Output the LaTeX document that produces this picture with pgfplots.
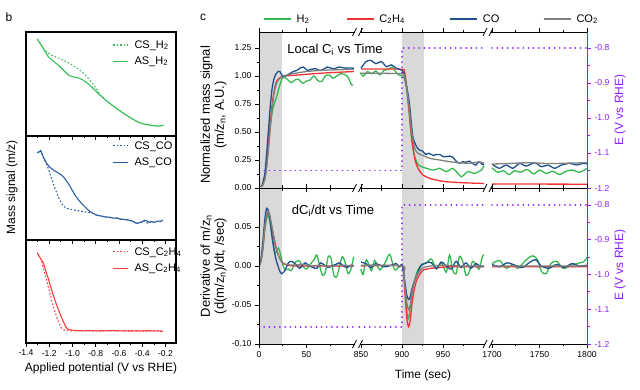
\documentclass[border=0pt]{standalone}
\usepackage{fontspec}
\setmainfont{Liberation Sans}
\usepackage{pgfplots}
\pgfplotsset{compat=1.18}
\usepackage{pgfplotstable}

\definecolor{cgreen}{RGB}{52,185,80}
\definecolor{cred}{RGB}{240,50,50}
\definecolor{cblue}{RGB}{30,80,140}
\definecolor{cgray}{RGB}{128,128,128}
\definecolor{cpurple}{RGB}{140,30,255}
\definecolor{band}{RGB}{217,217,217}
\definecolor{bgreen}{RGB}{60,190,90}
\definecolor{bblue}{RGB}{45,95,160}
\definecolor{bred}{RGB}{250,60,60}

\newcommand{\fs}[1]{\fontsize{#1}{#1}\selectfont}

% ---------- panel c data (t in seconds) ----------
\pgfplotstableread{
t y
0 0
3 0.02
6 0.12
8 0.3
10 0.52
12 0.74
14 0.9
16 0.98
18 1.02
20 1.04
22 1.04
24 1.01
26 0.995
28 1.0
32 1.02
36 1.04
40 1.05
44 1.075
47 1.08
51 1.05
55 1.06
60 1.065
64 1.05
68 1.06
72 1.08
76 1.07
80 1.065
84 1.08
88 1.075
92 1.07
96 1.072
100 1.07
101 nan
850 1.07
856 1.128
862 1.14
868 1.11
875 1.128
881 1.083
887 1.1
893 1.07
897 1.06
900 1.05
902 1.03
905 0.93
909 0.76
913 0.47
917 0.38
921 0.34
925 0.33
929 0.30
933 0.31
938 0.29
942 0.30
946 0.30
950 0.28
954 0.28
958 0.285
962 0.275
966 0.24
970 0.22
974 0.235
978 0.23
982 0.24
986 0.22
990 0.205
994 0.235
998 0.21
1000 0.21
1001 nan
1700 0.214
1704 0.19
1708 0.176
1715 0.205
1722 0.176
1729 0.22
1736 0.196
1745 0.226
1752 0.19
1759 0.205
1766 0.176
1773 0.205
1782 0.22
1789 0.205
1796 0.22
1800 0.215
}\topCO

\pgfplotstableread{
t y
0 0
3 0.015
6 0.08
8 0.2
10 0.38
12 0.58
14 0.75
16 0.87
18 0.94
20 0.97
23 0.99
26 1.0
35 1.005
50 1.015
65 1.025
80 1.032
100 1.04
101 nan
850 1.063
875 1.063
900 1.06
903 1.04
905.5 0.92
907.3 0.80
911.5 0.47
915.5 0.265
919.5 0.176
925.6 0.116
933.8 0.086
944 0.068
954 0.056
974 0.047
1000 0.04
1001 nan
1700 0.036
1800 0.034
}\topCH

\pgfplotstableread{
t y
0 0
3 0.015
6 0.07
8 0.18
10 0.35
12 0.55
14 0.72
16 0.85
18 0.92
20 0.96
23 0.985
26 1.0
35 1.02
50 1.04
65 1.05
80 1.055
100 1.06
101 nan
850 1.024
875 1.024
900 1.02
903 1.0
906 0.88
908.5 0.74
912 0.5
915.5 0.354
919.5 0.31
925.6 0.29
933.8 0.265
946 0.25
958 0.235
970 0.226
982 0.22
994 0.233
1000 0.22
1001 nan
1700 0.214
1720 0.22
1740 0.226
1760 0.218
1780 0.222
1800 0.226
}\topCOtwo

\pgfplotstableread{
t y
0 0
3 0.015
6 0.08
8 0.2
10 0.38
12 0.56
14 0.68
16 0.75
18 0.8
20 0.86
22 0.92
24 0.97
26 0.99
30 0.97
34 0.94
38 0.965
42 0.97
46 0.935
50 0.955
54 0.965
58 1.0
62 0.96
66 0.95
70 1.0
74 1.01
78 0.98
82 1.0
86 1.02
90 1.015
94 0.99
97 0.93
99 0.915
101 nan
849 1.03
853 1.0
858 1.04
863 1.02
868 1.045
873 1.01
878 1.05
884 1.06
888 1.08
892 1.04
896 1.01
900 1.0
903 0.98
905.5 0.88
908 0.72
912 0.42
915.5 0.28
919.5 0.21
924 0.19
929.7 0.176
937.8 0.16
946 0.176
950 0.16
954 0.146
958 0.16
962 0.176
967 0.14
972 0.10
976 0.12
980 0.146
984 0.14
988.6 0.13
993 0.145
997 0.16
1000 0.2
1001 nan
1700 0.18
1706 0.14
1712 0.155
1718 0.12
1724 0.155
1730 0.14
1737 0.165
1744 0.125
1750 0.16
1757 0.13
1764 0.15
1771 0.12
1778 0.15
1785 0.16
1792 0.14
1800 0.175
}\topH

\pgfplotstableread{
t y
0 -1.15
100 -1.15
101 nan
848 -1.15
900 -1.15
900 -0.8
1000 -0.8
1001 nan
1700 -0.8
1800 -0.8
}\potential

\pgfplotstableread{
t y
0 0
2 0.008
4 0.03
6 0.058
8 0.074
10 0.07
12 0.055
14 0.035
16 0.02
18 0.008
20 0.0
22 -0.007
24 -0.01
26 -0.008
28 -0.004
31 0.004
34 0.006
37 0.004
40 0.0
43 -0.003
46 0.001
49 0.004
53 0.0
57 -0.002
61 -0.003
65 0.004
69 0.001
73 -0.002
77 0.0
81 0.002
85 0.004
89 0.0
93 -0.002
97 0.001
100 0.0
101 nan
850 0.005
856 0.003
862 -0.002
868 0.003
875 0.0
881 -0.001
887 0.001
893 0.003
897 -0.001
900 0.002
902 -0.008
904 -0.025
906 -0.038
908 -0.043
910 -0.04
912 -0.03
915 -0.02
918 -0.012
921 -0.004
924 0.002
928 0.003
932 0.005
936 0.004
942 -0.003
948 0.005
954 0.0
960 -0.004
966 0.006
972 -0.002
978 0.004
984 -0.003
990 0.003
996 -0.001
1000 0.0
1001 nan
1700 0.002
1708 -0.001
1716 0.004
1724 0.001
1732 -0.002
1740 0.005
1746 0.008
1752 0.0
1760 -0.003
1768 0.002
1776 -0.002
1784 0.003
1792 0.0
1800 0.001
}\dCO

\pgfplotstableread{
t y
0 0
2 0.006
4 0.022
6 0.048
8 0.065
9.5 0.07
11 0.066
13 0.053
15 0.04
17 0.027
20 0.015
23 0.007
26 0.003
30 0.001
40 0.0
100 0.0
101 nan
850 0.0
900 0.0
902 -0.01
904 -0.04
906 -0.068
908 -0.078
910 -0.07
912 -0.05
915 -0.03
918 -0.018
922 -0.01
926 -0.005
930 -0.004
935 -0.003
945 -0.002
960 -0.001
1000 -0.001
1001 nan
1700 -0.001
1800 -0.001
}\dCH

\pgfplotstableread{
t y
0 0
2 0.006
4 0.022
6 0.048
8 0.066
9.5 0.07
11 0.067
13 0.055
15 0.042
17 0.03
19 0.02
21 0.012
23 0.007
26 0.003
30 0.002
35 0.001
45 0.002
55 0.0
65 0.001
75 -0.001
85 0.001
100 0.0
101 nan
850 0.001
900 0.0
902 -0.01
904 -0.03
906 -0.048
908 -0.056
910 -0.05
912 -0.035
915 -0.02
918 -0.012
922 -0.006
926 -0.002
935 0.0
950 0.001
970 0.0
1000 0.0
1001 nan
1700 0.0
1800 0.0
}\dCOtwo

\pgfplotstableread{
t y
0 0
2 0.006
4 0.02
6 0.045
8 0.06
9.5 0.065
11 0.06
13 0.045
15 0.028
17 0.016
19 0.02
20.5 0.023
22 0.018
24 0.008
26 -0.002
28 -0.005
31 -0.004
34 -0.006
38 0.004
42 0.007
46 0.0
50 -0.004
54 0.002
58 0.008
61 0.014
64 0.0
67 -0.012
70 -0.008
73 0.012
76 0.01
79 -0.012
82 -0.014
85 0.0
88 0.012
91 0.004
94 -0.01
97 -0.004
100 0.012
101 nan
850 -0.004
852.6 -0.011
856.6 0.008
862.6 -0.006
866.7 0.007
872.8 -0.005
878.9 0.003
885 0.015
891 -0.005
897 0.0
900 0.002
902 -0.01
904 -0.035
906 -0.06
907.5 -0.068
909 -0.062
911 -0.045
914 -0.025
917 -0.012
920 -0.004
923 0.0
927 0.003
931 0.005
936 0.009
942 -0.004
948 0.004
954 -0.008
958 0.014
962 -0.006
966 -0.01
970 0.012
974 0.006
978 -0.012
982 -0.008
986 0.006
990 0.002
994 -0.004
998 0.012
1000 0.014
1001 nan
1700 0.003
1708 0.007
1715 -0.003
1722 0.002
1727 -0.003
1733 0.004
1738 0.01
1743 0.013
1748 0.008
1752 -0.007
1757 -0.01
1762 0.003
1768 0.006
1775 -0.003
1782 0.0
1789 0.003
1796 0.005
1800 0.011
}\dH

\pgfplotstableread{
t y
0 5
24.5 5
}\bandAup
\pgfplotstableread{
t y
0 -5
24.5 -5
}\bandAdn
\pgfplotstableread{
t y
900 5
927 5
}\bandBup
\pgfplotstableread{
t y
900 -5
927 -5
}\bandBdn

\pgfplotsset{
  table/tmap/.style={x expr={\thisrow{t}<500 ? \thisrow{t}*0.948 : (\thisrow{t}<1500 ? 143+(\thisrow{t}-900)*0.82 : 233+(\thisrow{t}-1700)*0.95)}, y=y},
  common/.style={
    anchor=south west, scale only axis,
    /pgf/number format/assume math mode=true,
    tick align=outside,
    tick label style={font=\fs{8.6}},
    axis line style={line width=0.8pt},
    every tick/.style={line width=0.8pt},
    unbounded coords=jump,
  },
  bstyle/.style={common,
    width=150pt, xmin=-1.4, xmax=-0.11, ymin=0, ymax=1,
    axis line style={line width=1.05pt},
    xtick={-1.4,-1.2,-1.0,-0.8,-0.6,-0.4,-0.2}, minor x tick num=1,
    ytick=\empty, xtick pos=left,
    major tick length=3.5pt, minor tick length=2pt,
    x tick label style={/pgf/number format/fixed, /pgf/number format/fixed zerofill, /pgf/number format/precision=1},
    legend style={draw=none, fill=none, anchor=north west, inner sep=0pt, font=\fs{11}, row sep=3pt,
      /tikz/every odd column/.style={column sep=4pt}},
    legend cell align=left,
    legend image code/.code={\draw[##1] (0pt,0pt) -- (15pt,0pt);},
  },
  cstyle/.style={common,
    width=328pt, height=156pt, xmin=0, xmax=328,
    xtick={0,47.4,102,143,184,233,280.5,328},
    minor xtick={23.7,71.1,122.5,163.5,204.5,256.75,304.25},
    major tick length=4pt, minor tick length=2.5pt,
  },
  cmain/.style={cstyle, axis on top, axis x line*=box, axis y line*=left, axis line style={-},
    minor y tick num=1,
    y tick label style={/pgf/number format/fixed, /pgf/number format/fixed zerofill, /pgf/number format/precision=2}},
  cright/.style={cstyle, axis x line=none, axis y line*=right,
    y axis line style={cpurple, line width=0.8pt, -},
    ytick={-1.2,-1.1,-1.0,-0.9,-0.8}, minor y tick num=1,
    every y tick/.style={cpurple, line width=0.8pt},
    every minor y tick/.style={cpurple, line width=0.8pt},
    y tick label style={text=cpurple, /pgf/number format/fixed, /pgf/number format/fixed zerofill, /pgf/number format/precision=1}},
  cline/.style={line width=1.3pt, smooth, tension=0.45, forget plot},
  pline/.style={cpurple, line width=1.9pt, line cap=round, dash pattern=on 0.01pt off 5.2pt, forget plot},
}

\newcommand{\brk}[2]{%
  \fill[white] (#1pt-2.6pt,#2pt-1.8pt) rectangle (#1pt+2.6pt,#2pt+1.8pt);
  \draw[line width=0.8pt] (#1pt-5pt,#2pt-4pt) -- (#1pt-1pt,#2pt+4pt);
  \draw[line width=0.8pt] (#1pt+1pt,#2pt-4pt) -- (#1pt+5pt,#2pt+4pt);}

\begin{document}
\begin{tikzpicture}
\useasboundingbox (0,0) rectangle (640pt,389pt);

% ================= panel b =================
\begin{axis}[bstyle, at={(26pt,253pt)}, height=104pt, xticklabels=\empty,
  legend style={at={(axis description cs:0.575,0.94)}}]
\addplot[bgreen, line width=1.1pt, dash pattern=on 1.6pt off 2pt] table {
-1.303 0.933
-1.252 0.843
-1.209 0.797
-1.166 0.769
-1.108 0.743
-1.051 0.714
-0.994 0.677
-0.937 0.635
-0.894 0.59
-0.852 0.538
-0.81 0.48
-0.78 0.43
-0.766 0.40
-0.723 0.353
-0.68 0.314
-0.637 0.278
-0.594 0.243
-0.551 0.21
-0.509 0.18
-0.466 0.152
-0.423 0.128
-0.38 0.114
-0.337 0.106
-0.30 0.099
-0.266 0.096
-0.24 0.098
-0.218 0.103
};
\addlegendentry{CS\_H\textsubscript{2}}
\addplot[bgreen, line width=1.1pt] table {
-1.303 0.933
-1.25 0.84
-1.209 0.763
-1.166 0.72
-1.123 0.683
-1.08 0.635
-1.037 0.587
-0.995 0.568
-0.966 0.564
-0.937 0.553
-0.909 0.538
-0.88 0.515
-0.852 0.49
-0.809 0.443
-0.766 0.394
-0.723 0.353
-0.68 0.314
-0.637 0.278
-0.594 0.243
-0.551 0.21
-0.509 0.18
-0.466 0.152
-0.423 0.128
-0.38 0.114
-0.337 0.106
-0.30 0.099
-0.266 0.096
-0.24 0.098
-0.218 0.103
};
\addlegendentry{AS\_H\textsubscript{2}}
\end{axis}

\begin{axis}[bstyle, at={(26pt,149pt)}, height=104pt, xticklabels=\empty,
  legend style={at={(axis description cs:0.575,0.97)}}]
\addplot[bblue, line width=1.1pt, dash pattern=on 1.6pt off 2pt] table {
-1.303 0.84
-1.274 0.859
-1.252 0.80
-1.23 0.745
-1.209 0.689
-1.19 0.62
-1.166 0.545
-1.145 0.48
-1.123 0.417
-1.10 0.365
-1.08 0.327
-1.05 0.305
-1.023 0.295
-0.98 0.287
-0.937 0.279
-0.88 0.268
-0.823 0.256
-0.794 0.24
-0.76 0.232
-0.72 0.222
-0.68 0.218
-0.65 0.21
-0.62 0.212
-0.59 0.2
-0.566 0.199
-0.54 0.195
-0.51 0.19
-0.48 0.18
-0.451 0.16
-0.43 0.165
-0.40 0.175
-0.38 0.185
-0.35 0.16
-0.32 0.178
-0.30 0.168
-0.28 0.176
-0.26 0.182
-0.24 0.178
-0.223 0.192
};
\addlegendentry{CS\_CO}
\addplot[bblue, line width=1.1pt] table {
-1.303 0.84
-1.288 0.845
-1.274 0.859
-1.262 0.83
-1.252 0.80
-1.238 0.77
-1.223 0.737
-1.195 0.70
-1.166 0.673
-1.13 0.65
-1.094 0.625
-1.066 0.59
-1.037 0.545
-1.008 0.49
-0.98 0.433
-0.951 0.39
-0.923 0.353
-0.894 0.32
-0.866 0.288
-0.83 0.26
-0.794 0.24
-0.76 0.232
-0.72 0.222
-0.68 0.218
-0.65 0.21
-0.62 0.212
-0.59 0.2
-0.566 0.199
-0.54 0.195
-0.51 0.19
-0.48 0.18
-0.451 0.16
-0.43 0.165
-0.40 0.175
-0.38 0.19
-0.366 0.186
-0.34 0.17
-0.32 0.178
-0.30 0.168
-0.28 0.176
-0.26 0.182
-0.24 0.178
-0.223 0.192
};
\addlegendentry{AS\_CO}
\end{axis}

\begin{axis}[bstyle, at={(26pt,46pt)}, height=103pt,
  legend style={at={(axis description cs:0.575,0.95)}}]
\addplot[bred, line width=1.1pt, dash pattern=on 1.6pt off 2pt] table {
-1.266 0.79
-1.245 0.70
-1.223 0.61
-1.20 0.51
-1.18 0.417
-1.158 0.33
-1.137 0.255
-1.115 0.19
-1.094 0.143
-1.07 0.125
-1.051 0.12
-1.0 0.118
-0.9 0.12
-0.8 0.117
-0.7 0.12
-0.6 0.118
-0.5 0.119
-0.4 0.116
-0.3 0.118
-0.223 0.112
};
\addlegendentry{CS\_C\textsubscript{2}H\textsubscript{4}}
\addplot[bred, line width=1.1pt] table {
-1.303 0.877
-1.28 0.83
-1.252 0.78
-1.23 0.70
-1.209 0.628
-1.188 0.545
-1.166 0.466
-1.14 0.38
-1.109 0.288
-1.08 0.21
-1.051 0.143
-1.03 0.13
-1.009 0.126
-0.98 0.122
-0.95 0.12
-0.9 0.118
-0.85 0.121
-0.8 0.117
-0.75 0.119
-0.7 0.118
-0.65 0.121
-0.6 0.117
-0.55 0.119
-0.5 0.116
-0.45 0.119
-0.4 0.117
-0.35 0.12
-0.3 0.117
-0.25 0.118
-0.223 0.112
};
\addlegendentry{AS\_C\textsubscript{2}H\textsubscript{4}}
\end{axis}

\node[font=\fs{12}] at (101pt,21pt) {Applied potential (V vs RHE)};
\node[font=\fs{12}, rotate=90] at (12pt,202pt) {Mass signal (m/z)};
\node[font=\fs{12}] at (9pt,372pt) {b};
\node[font=\fs{12}] at (203pt,372pt) {c};

% ================= panel c top =================
\begin{axis}[cmain, at={(259pt,201pt)}, ymin=0, ymax=1.393,
  ytick={0,0.25,0.5,0.75,1,1.25}, xticklabels=\empty,
  legend columns=4,
  legend style={draw=none, fill=none, inner sep=0pt, font=\fs{11},
    at={(axis description cs:0.012,1.083)}, anchor=west,
    /tikz/every odd column/.style={column sep=3pt}},
  legend image code/.code={\draw[#1] (0pt,0pt) -- (27pt,0pt);}]
\addplot[fill=band, draw=none, forget plot] table[tmap] {\bandAup} \closedcycle;
\addplot[fill=band, draw=none, forget plot] table[tmap] {\bandBup} \closedcycle;
\addplot[cgreen, cline] table[tmap] {\topH};
\addplot[cred, cline] table[tmap] {\topCH};
\addplot[cblue, cline] table[tmap] {\topCO};
\addplot[cgray, cline] table[tmap] {\topCOtwo};
\addlegendimage{cgreen, line width=1.6pt}
\addlegendentry{\makebox[47pt][l]{H\textsubscript{2}}}
\addlegendimage{cred, line width=1.6pt}
\addlegendentry{\makebox[68pt][l]{C\textsubscript{2}H\textsubscript{4}}}
\addlegendimage{cblue, line width=1.6pt}
\addlegendentry{\makebox[58pt][l]{CO}}
\addlegendimage{cgray, line width=1.6pt}
\addlegendentry{CO\textsubscript{2}}
\end{axis}
\begin{axis}[cright, at={(259pt,201pt)}, ymin=-1.2, ymax=-0.7543]
\addplot[pline] table[tmap] {\potential};
\end{axis}

% ================= panel c bottom =================
\begin{axis}[cmain, at={(259pt,45pt)}, ymin=-0.1, ymax=0.1,
  ytick={-0.1,-0.05,0,0.05}, xticklabels={0,50,850,900,950,1700,1750,1800}]
\addplot[fill=band, draw=none, forget plot] table[tmap] {\bandAup} \closedcycle;
\addplot[fill=band, draw=none, forget plot] table[tmap] {\bandAdn} \closedcycle;
\addplot[fill=band, draw=none, forget plot] table[tmap] {\bandBup} \closedcycle;
\addplot[fill=band, draw=none, forget plot] table[tmap] {\bandBdn} \closedcycle;
\addplot[cgreen, cline] table[tmap] {\dH};
\addplot[cred, cline] table[tmap] {\dCH};
\addplot[cblue, cline] table[tmap] {\dCO};
\addplot[cgray, cline] table[tmap] {\dCOtwo};
\end{axis}
\begin{axis}[cright, at={(259pt,45pt)}, ymin=-1.2, ymax=-0.751]
\addplot[pline] table[tmap] {\potential};
\end{axis}

% break marks
\brk{357.5}{357}\brk{357.5}{201}\brk{357.5}{45}
\brk{488}{357}\brk{488}{201}\brk{488}{45}

\node[font=\fs{13}] at (335pt,339pt) {Local C\textsubscript{i} vs Time};
\node[font=\fs{13}] at (333pt,178pt) {dC\textsubscript{i}/dt vs Time};
\node[font=\fs{12}] at (423pt,14pt) {Time (sec)};
\node[font=\fs{13}, rotate=90, align=center] at (213.5pt,274pt) {Normalized mass signal\\[1pt](m/z\textsubscript{n}, A.U.)};
\node[font=\fs{13}, rotate=90, align=center] at (213.5pt,123pt) {Derivative of m/z\textsubscript{n}\\[1pt](d(m/z\textsubscript{n})/dt, /sec)};
\node[font=\fs{12}, rotate=90, text=cpurple] at (620pt,279pt) {E (V vs RHE)};
\node[font=\fs{12}, rotate=90, text=cpurple] at (620pt,124pt) {E (V vs RHE)};
\end{tikzpicture}
\end{document}
